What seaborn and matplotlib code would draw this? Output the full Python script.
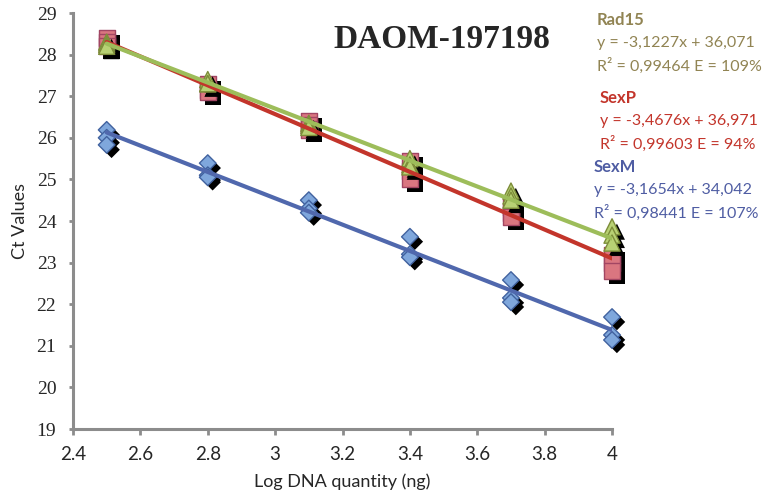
import matplotlib
matplotlib.use('Agg')
import matplotlib.pyplot as plt
import matplotlib.patheffects as pe
import numpy as np
import pandas as pd
import seaborn as sns

# Log DNA quantity (x) for each dilution, three replicates each
log_dna = [2.5, 2.8, 3.1, 3.4, 3.7, 4.0]

# Ct values (3 replicates per dilution)
sexm_ct = [[26.19, 26.00, 25.83],
           [25.39, 25.10, 25.05],
           [24.50, 24.30, 24.20],
           [23.62, 23.20, 23.13],
           [22.58, 22.15, 22.05],
           [21.69, 21.26, 21.14]]
sexp_ct = [[28.40, 28.30, 28.20],
           [27.30, 27.15, 27.10],
           [26.40, 26.30, 26.20],
           [25.45, 25.20, 25.00],
           [24.35, 24.20, 24.10],
           [23.18, 23.00, 22.80]]
rad15_ct = [[28.30, 28.25, 28.20],
            [27.40, 27.30, 27.30],
            [26.35, 26.30, 26.25],
            [25.50, 25.35, 25.30],
            [24.72, 24.60, 24.50],
            [23.86, 23.66, 23.47]]

# trendline equations shown on the chart
series = ['SexM', 'SexP', 'Rad15']
slopes = [-3.1654, -3.4676, -3.1227]
intercepts = [34.042, 36.971, 36.071]
r2_text = ['0,98441', '0,99603', '0,99464']
eff_text = ['107%', '94%', '109%']

# build a long table for seaborn
rows = []
for name, vals in zip(series, [sexm_ct, sexp_ct, rad15_ct]):
    for x, reps in zip(log_dna, vals):
        for v in reps:
            rows.append({'series': name, 'x': x, 'ct': v})
df = pd.DataFrame(rows)

sns.set_style('white')
plt.rcParams['font.family'] = ['Lato', 'DejaVu Sans']

fig = plt.figure(figsize=(7.66, 5.0), dpi=100)
ax = fig.add_axes([0.0953, 0.142, 0.7037, 0.832])

marker_style = {
    'SexM': dict(marker='D', s=72, color='#7FA7DC', edgecolor='#41629F'),
    'SexP': dict(marker='s', s=135, color='#DA7680', edgecolor='#A24663'),
    'Rad15': dict(marker='^', s=135, color='#B8D174', edgecolor='#7D8D3A'),
}
line_colors = {'SexM': '#5068AD', 'SexP': '#C3352B', 'Rad15': '#9DBD5A'}

# black drop shadow like the Excel markers
shadow = [pe.SimplePatchShadow(offset=(3.5, -3.5), shadow_rgbFace='black', alpha=1.0),
          pe.Normal()]

for name in series:
    sub = df[df['series'] == name]
    sns.scatterplot(data=sub, x='x', y='ct', ax=ax, linewidth=1.0,
                    zorder=3, legend=False, clip_on=False, **marker_style[name])
    ax.collections[-1].set_path_effects(shadow)

# trendlines from the displayed equations
for name, m, b in zip(series, slopes, intercepts):
    xs = np.array([log_dna[0], log_dna[-1]])
    sns.lineplot(x=xs, y=m * xs + b, ax=ax, color=line_colors[name],
                 linewidth=3.0, zorder=4)

ax.set_xlim(2.4, 4.0)
ax.set_ylim(19, 29)
ax.set_xticks(np.arange(2.4, 4.01, 0.2))
ax.set_xticklabels(['2.4', '2.6', '2.8', '3', '3.2', '3.4', '3.6', '3.8', '4'])
ax.set_yticks(range(19, 30))
for lab in ax.get_yticklabels():
    lab.set_family('Liberation Serif')
ax.tick_params(axis='y', labelsize=14, direction='out', length=3, width=2,
               color='#8C8C8C', pad=9, left=True)
ax.tick_params(axis='x', labelsize=13.5, direction='out', length=4, width=2,
               color='#8C8C8C', pad=8, bottom=True)
for side in ['top', 'right']:
    ax.spines[side].set_visible(False)
for side in ['left', 'bottom']:
    ax.spines[side].set_color('#8C8C8C')
    ax.spines[side].set_linewidth(2.2)

ax.set_xlabel('Log DNA quantity (ng)', fontsize=13, labelpad=8)
ax.set_ylabel('Ct Values', fontsize=13, labelpad=6)

fig.text(442 / 766, 1 - 40 / 500, 'DAOM-197198', family='Liberation Serif',
         fontweight='bold', fontsize=24, ha='center', va='center')

# equation annotations
text_colors = {'Rad15': '#918453', 'SexP': '#C3352B', 'SexM': '#4F5DA3'}
text_pos = {'Rad15': (597, 20), 'SexP': (600, 98), 'SexM': (594, 167)}
for name, m, b, r2, e in zip(series, slopes, intercepts, r2_text, eff_text):
    px, py = text_pos[name]
    col = text_colors[name]
    eq = 'y = {}x + {}'.format(str(m).replace('.', ','), str(b).replace('.', ','))
    fig.text(px / 766, 1 - py / 500, name, color=col, fontsize=12,
             fontweight='bold', va='center', ha='left')
    fig.text(px / 766, 1 - (py + 23) / 500, eq, color=col, fontsize=11.5,
             va='center', ha='left')
    fig.text(px / 766, 1 - (py + 46) / 500, 'R² = {} E = {}'.format(r2, e),
             color=col, fontsize=11.5, va='center', ha='left')

fig.savefig('out.png', dpi=100)
